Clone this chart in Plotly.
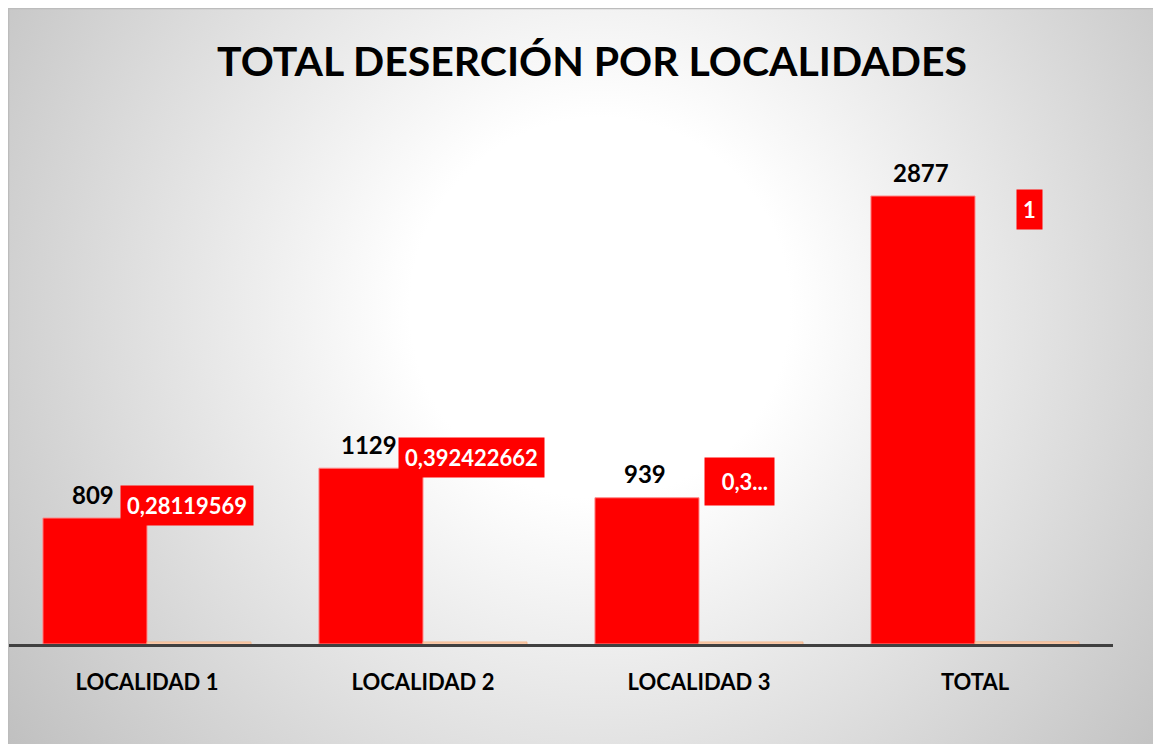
import base64
import plotly.graph_objects as go

categorias = ["LOCALIDAD 1", "LOCALIDAD 2", "LOCALIDAD 3", "TOTAL"]
desercion = [809, 1129, 939, 2877]
porcentaje = [0.28119569, 0.392422662, 0.326381648, 1]
porcentaje_etiquetas = ["0,28119569", "0,392422662", "0,3...", "1"]

W, H = 1161, 744
ML, MR, MT, MB = 1, 56, 91, 108
pw = W - ML - MR
ph = H - MT - MB
BAR_FRAC = 104 / 276  # width of one bar in category units

# label offsets (px) relative to each bar centre
pct_dx = [-12, -4, -12, 2]
pct_dy = [13, 11, 16, -13]

fig = go.Figure()
fig.add_trace(go.Bar(
    x=categorias, y=desercion, name="Deserción",
    marker=dict(color="#ff0000", line=dict(color="#ff8a8a", width=1)),
    offsetgroup="a",
))
fig.add_trace(go.Bar(
    x=categorias, y=porcentaje, name="Porcentaje",
    marker=dict(color="#f8cbad", line=dict(color="#f4b183", width=1)),
    offsetgroup="b",
))

# background radial gradient (whole chart area)
svg = f'''<svg xmlns="http://www.w3.org/2000/svg" width="{W}" height="{H}" viewBox="0 0 {W} {H}">
<defs><radialGradient id="g" gradientUnits="userSpaceOnUse" cx="592" cy="300" r="760">
<stop offset="0" stop-color="#ffffff"/><stop offset="0.25" stop-color="#ffffff"/>
<stop offset="1" stop-color="#bdbdbd"/></radialGradient></defs>
<rect x="0" y="0" width="{W}" height="{H}" fill="url(#g)"/>
<rect x="0.5" y="0.5" width="{W+4}" height="{H+4}" fill="none" stroke="#bcbcbc" stroke-width="1.5"/>
</svg>'''
uri = "data:image/svg+xml;base64," + base64.b64encode(svg.encode()).decode()
fig.add_layout_image(dict(
    source=uri, xref="paper", yref="paper",
    x=-ML / pw, y=(H - MB) / ph, sizex=W / pw, sizey=H / ph,
    xanchor="left", yanchor="top", sizing="stretch", layer="below",
))

annotations = []
shapes = []
for i, c in enumerate(categorias):
    annotations.append(dict(
        x=c, y=desercion[i], xref="x", yref="y", text=str(desercion[i]),
        showarrow=False, xshift=-54, yshift=24,
        font=dict(family="Lato", size=24, color="#000000", weight="bold"),
    ))
    ann = dict(
        x=c, y=desercion[i], xref="x", yref="y", text=porcentaje_etiquetas[i],
        showarrow=False, xshift=52 + pct_dx[i], yshift=pct_dy[i],
        font=dict(family="Lato", size=22, color="#ffffff", weight="bold"),
        bgcolor="#ff0000", borderpad=6,
    )
    if porcentaje_etiquetas[i].endswith("..."):
        ann.update(width=57, height=35, align="right")
    annotations.append(ann)
    # visible sliver of the (near-zero) percentage bar
    shapes.append(dict(
        type="rect", xref="x", yref="y", ysizemode="pixel", yanchor=porcentaje[i],
        x0=i, x1=i + BAR_FRAC, y0=-0.5, y1=2,
        fillcolor="#f8cbad", line=dict(color="#f4b183", width=0.8), layer="above",
    ))

fig.update_layout(
    width=W, height=H,
    margin=dict(l=ML, r=MR, t=MT, b=MB),
    paper_bgcolor="#ffffff", plot_bgcolor="rgba(0,0,0,0)",
    barmode="group", bargap=0.246, bargroupgap=0,
    showlegend=False,
    title=dict(text="<b>TOTAL DESERCIÓN POR LOCALIDADES</b>",
               x=584 / W, xanchor="center", y=1 - 54 / H, yanchor="middle",
               font=dict(family="Lato", size=41, color="#000000")),
    xaxis=dict(showline=True, linecolor="#404040", linewidth=3, ticks="",
               showgrid=False, zeroline=False, ticklabelstandoff=17,
               tickfont=dict(family="Lato", size=22, color="#000000", weight="bold")),
    yaxis=dict(range=[0, 3500], visible=False, showgrid=False, zeroline=False),
    annotations=annotations,
    shapes=shapes,
)
fig.write_html(
    "out.html",
    post_script="document.documentElement.style.overflow='hidden';"
                "document.body.style.overflow='hidden';",
)
